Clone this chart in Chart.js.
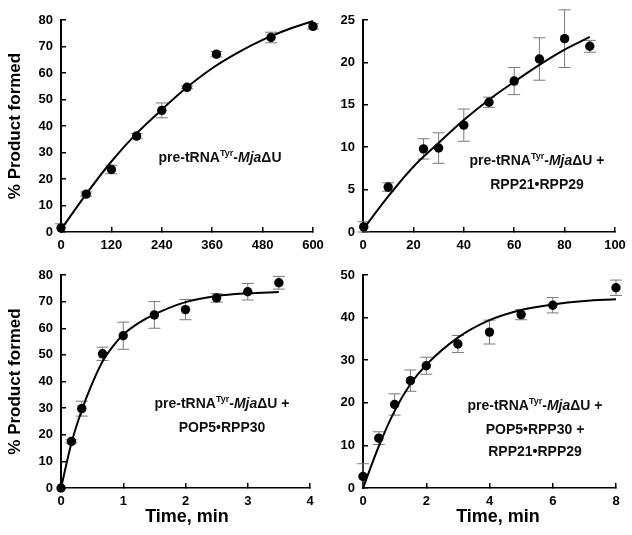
<!DOCTYPE html>
<html>
<head>
<meta charset="utf-8">
<script src="https://cdn.jsdelivr.net/npm/chart.js@4.4.0/dist/chart.umd.min.js"></script>
<style>
  html, body { margin:0; padding:0; background:#fff; }
  #wrap { position:relative; width:632px; height:535px; overflow:hidden; background:#fff; }
  .panel { position:absolute; }
  .panel canvas { display:block; }
  .note { position:absolute; transform:translateX(-50%); white-space:nowrap; text-align:center;
          font-family:'Liberation Sans', Arial, sans-serif; font-weight:bold; font-size:14px; line-height:22px; color:#111; }
  .note sup { font-size:9px; vertical-align:baseline; position:relative; top:-6px; }
  .note i { font-style:italic; }
  .xt { position:absolute; transform:translateX(-50%); white-space:nowrap;
        font-family:'Liberation Sans', Arial, sans-serif; font-weight:bold; font-size:18px; line-height:22px; color:#000; }
</style>
</head>
<body>
<div id="wrap">
  <div class="panel" style="left:0;top:0;"><canvas id="c1" width="330" height="260"></canvas></div>
  <div class="panel" style="left:316px;top:0;"><canvas id="c2" width="316" height="260"></canvas></div>
  <div class="panel" style="left:0;top:250px;"><canvas id="c3" width="330" height="285"></canvas></div>
  <div class="panel" style="left:316px;top:250px;"><canvas id="c4" width="316" height="285"></canvas></div>

  <div class="note" style="left:220px;top:146px;">pre-tRNA<sup>Tyr</sup>-<i>Mja</i>&#916;U</div>
  <div class="note" style="left:537px;top:149px;">pre-tRNA<sup>Tyr</sup>-<i>Mja</i>&#916;U +<br>RPP21&#8226;RPP29</div>
  <div class="note" style="left:222px;top:392px;">pre-tRNA<sup>Tyr</sup>-<i>Mja</i>&#916;U +<br>POP5&#8226;RPP30</div>
  <div class="note" style="left:535px;top:394px;">pre-tRNA<sup>Tyr</sup>-<i>Mja</i>&#916;U +<br>POP5&#8226;RPP30 +<br>RPP21&#8226;RPP29</div>

  <div class="xt" id="xt3" style="left:187px;top:505px;"></div>
  <div class="xt" id="xt4" style="left:498px;top:505px;"></div>
</div>
<script>
// ---------- Data ----------
// Panel 1: pre-tRNA(Tyr)-MjaΔU
const p1Time = [0, 60, 120, 180, 240, 300, 370, 500, 600];
const p1Pct  = [1.5, 14.3, 23.6, 36.2, 45.9, 54.6, 67.1, 73.4, 77.6];
const p1Err  = [1.6, 0.8, 1.6, 1.0, 2.8, 0.5, 1.0, 2.0, 1.0];
const p1FitTime = [0, 60, 120, 180, 240, 300, 360, 420, 480, 540, 600];
const p1FitPct  = [0.9, 14.3, 26.6, 37.2, 46.2, 54.6, 61.8, 67.6, 72.5, 76.4, 79.6];

// Panel 2: + RPP21•RPP29
const p2Time = [0.3, 10, 24, 30, 40, 50, 60, 70, 80, 90];
const p2Pct  = [0.6, 5.3, 9.8, 9.9, 12.6, 15.3, 17.8, 20.4, 22.8, 21.9];
const p2Err  = [0.6, 0.5, 1.2, 1.8, 1.9, 0.6, 1.6, 2.5, 3.4, 0.7];
const p2FitTime = [0, 10, 20, 30, 40, 50, 60, 70, 80, 90];
const p2FitPct  = [0.3, 4.2, 7.7, 10.5, 13.2, 15.6, 17.7, 19.7, 21.5, 23.0];

// Panel 3: + POP5•RPP30
const p3Time = [0, 0.167, 0.333, 0.667, 1.0, 1.5, 2.0, 2.5, 3.0, 3.5];
const p3Pct  = [0, 17.5, 29.8, 50.4, 57.2, 65.0, 67.0, 71.4, 73.7, 77.1];
const p3Err  = [0, 0.6, 2.8, 2.5, 5.1, 5.0, 3.8, 1.6, 3.1, 2.4];
const p3FitTime = [0, 0.167, 0.333, 0.5, 0.667, 0.833, 1.0, 1.25, 1.5, 2.0, 2.5, 3.0, 3.5];
const p3FitPct  = [0, 16.8, 29.2, 39.2, 47.5, 53.2, 57.6, 62.0, 65.2, 69.8, 72.1, 73.1, 73.6];

// Panel 4: + POP5•RPP30 + RPP21•RPP29
const p4Time = [0, 0.5, 1.0, 1.5, 2.0, 3.0, 4.0, 5.0, 6.0, 8.0];
const p4Pct  = [2.7, 11.7, 19.6, 25.2, 28.7, 33.8, 36.6, 40.7, 42.9, 47.0];
const p4Err  = [3.0, 1.5, 2.5, 2.5, 2.0, 2.0, 2.8, 1.2, 1.8, 1.8];
const p4FitTime = [0, 0.5, 1.0, 1.5, 2.0, 3.0, 4.0, 5.0, 6.0, 7.0, 8.0];
const p4FitPct  = [0, 9.8, 18.1, 24.4, 28.9, 35.3, 39.4, 41.8, 43.1, 43.9, 44.3];

// Axis tick settings
const p1XTicks = { min: 0, max: 600, step: 120 };
const p1YTicks = { min: 0, max: 80, step: 10 };
const p2XTicks = { min: 0, max: 100, step: 20 };
const p2YTicks = { min: 0, max: 25, step: 5 };
const p3XTicks = { min: 0, max: 4, step: 1 };
const p3YTicks = { min: 0, max: 80, step: 10 };
const p4XTicks = { min: 0, max: 8, step: 2 };
const p4YTicks = { min: 0, max: 50, step: 10 };

const yTitleText = '% Product formed';
const xTitleText = 'Time, min';

document.getElementById('xt3').textContent = xTitleText;
document.getElementById('xt4').textContent = xTitleText;

// ---------- Chart setup ----------
const FONT = "'Liberation Sans', Arial, Helvetica, sans-serif";
Chart.defaults.font.family = FONT;
Chart.defaults.font.weight = 'bold';
Chart.defaults.color = '#000';

const errorBarPlugin = {
  id: 'errorBarPlugin',
  beforeDatasetsDraw(chart) {
    const ctx = chart.ctx;
    const xs = chart.scales.x, ys = chart.scales.y;
    chart.data.datasets.forEach((ds) => {
      if (!ds.errorBars) return;
      ctx.save();
      ctx.strokeStyle = '#7a7a7a';
      ctx.lineWidth = 1;
      ds.data.forEach((d, j) => {
        const e = ds.errorBars[j];
        if (!e) return;
        const px = xs.getPixelForValue(d.x);
        const pt = ys.getPixelForValue(d.y + e);
        const pb = ys.getPixelForValue(Math.max(ys.min, d.y - e));
        const cap = 6;
        ctx.beginPath();
        ctx.moveTo(px, pt); ctx.lineTo(px, pb);
        ctx.moveTo(px - cap, pt); ctx.lineTo(px + cap, pt);
        if (d.y - e >= ys.min) { ctx.moveTo(px - cap, pb); ctx.lineTo(px + cap, pb); }
        ctx.stroke();
      });
      ctx.restore();
    });
  }
};

function pairs(xs, ys) { return xs.map((x, i) => ({ x: x, y: ys[i] })); }

function makePanel(id, o) {
  const yTitle = o.yTitle ? { display: true, text: yTitleText, font: { size: 17, weight: 'bold' }, color: '#000', padding: { top: 5, bottom: 0 } } : { display: false };
  return new Chart(document.getElementById(id), {
    type: 'scatter',
    data: {
      datasets: [
        {
          label: 'fit',
          data: pairs(o.fitX, o.fitY),
          showLine: true,
          borderColor: '#000',
          borderWidth: 2,
          pointRadius: 0,
          tension: 0.4,
          cubicInterpolationMode: 'monotone',
          clip: false,
          order: 2
        },
        {
          label: 'data',
          data: pairs(o.x, o.y),
          errorBars: o.err,
          pointRadius: 4.7,
          pointBackgroundColor: '#000',
          pointBorderWidth: 0,
          showLine: false,
          clip: false,
          order: 1
        }
      ]
    },
    options: {
      responsive: false,
      animation: false,
      events: [],
      layout: { padding: { top: o.padTop, right: o.padRight, left: 0, bottom: 0 } },
      plugins: { legend: { display: false }, tooltip: { enabled: false } },
      scales: {
        x: {
          type: 'linear',
          min: o.xt.min, max: o.xt.max,
          ticks: { stepSize: o.xt.step, font: { size: 13, weight: 'bold' }, color: '#000', padding: 11, maxRotation: 0, minRotation: 0, autoSkip: false },
          grid: { drawOnChartArea: false, drawTicks: true, tickLength: -5, color: '#000', lineWidth: 1.5 },
          border: { display: true, color: '#000', width: 1.6 },
          title: { display: false },
          afterFit(s) { s.height = o.xH; s.paddingLeft = 0; s.paddingRight = 0; }
        },
        y: {
          type: 'linear',
          min: o.yt.min, max: o.yt.max,
          ticks: { stepSize: o.yt.step, font: { size: 13, weight: 'bold' }, color: '#000', padding: 13, autoSkip: false },
          grid: { drawOnChartArea: false, drawTicks: true, tickLength: -5, color: '#000', lineWidth: 1.5 },
          border: { display: true, color: '#000', width: 2 },
          title: yTitle,
          afterFit(s) { s.width = o.yW; s.paddingTop = 0; s.paddingBottom = 0; }
        }
      }
    },
    plugins: [errorBarPlugin]
  });
}

makePanel('c1', { x: p1Time, y: p1Pct, err: p1Err, fitX: p1FitTime, fitY: p1FitPct, xt: p1XTicks, yt: p1YTicks,
  padTop: 20, padRight: 17, xH: 28, yW: 61, yTitle: true });
makePanel('c2', { x: p2Time, y: p2Pct, err: p2Err, fitX: p2FitTime, fitY: p2FitPct, xt: p2XTicks, yt: p2YTicks,
  padTop: 20, padRight: 17, xH: 28, yW: 47, yTitle: false });
makePanel('c3', { x: p3Time, y: p3Pct, err: p3Err, fitX: p3FitTime, fitY: p3FitPct, xt: p3XTicks, yt: p3YTicks,
  padTop: 25, padRight: 20, xH: 47, yW: 61, yTitle: true });
makePanel('c4', { x: p4Time, y: p4Pct, err: p4Err, fitX: p4FitTime, fitY: p4FitPct, xt: p4XTicks, yt: p4YTicks,
  padTop: 25, padRight: 16, xH: 47, yW: 47, yTitle: false });
</script>
</body>
</html>
